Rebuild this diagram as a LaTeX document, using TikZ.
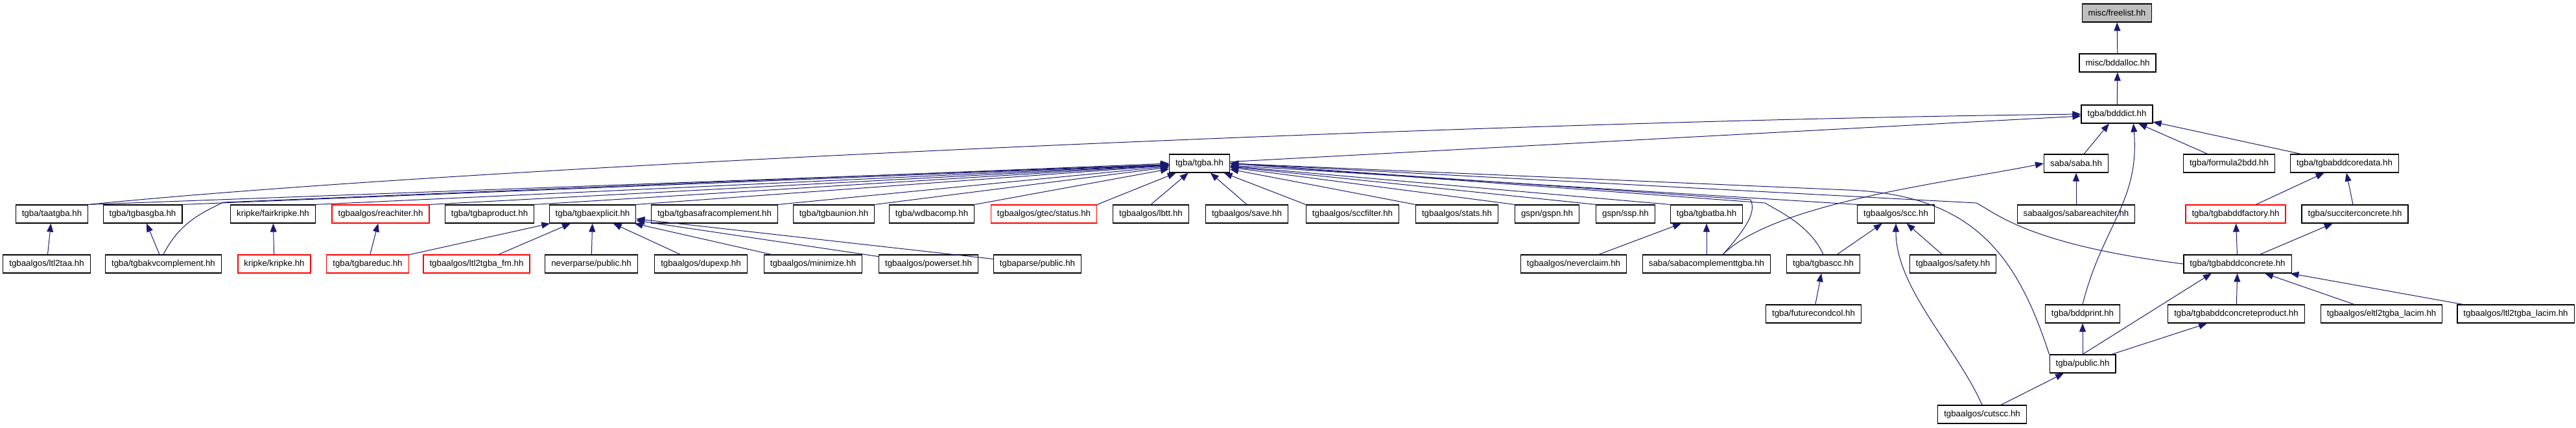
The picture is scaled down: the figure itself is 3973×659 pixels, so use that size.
\documentclass[tikz,border=0pt]{standalone}
\usepackage{fontspec}
\setmainfont{Liberation Sans}
\usetikzlibrary{arrows.meta, positioning, calc}
\definecolor{edgeblue}{RGB}{25,25,112}
\definecolor{rootgray}{RGB}{191,191,191}
\definecolor{brokenred}{RGB}{255,0,0}

\tikzset{
  file/.style={draw=black, line width=0.6pt, inner xsep=4.75pt, inner ysep=0pt,
    minimum height=14pt, font=\fontsize{6.65}{7}\selectfont},
  missing/.style={file, draw=brokenred},
  rootfile/.style={file, fill=rootgray},
  dep/.style={draw=edgeblue, line width=0.5pt, -{Triangle[length=6.5pt,width=5pt]}},
}

\begin{document}
\begin{tikzpicture}[x=0.5pt, y=-0.5pt]
  \useasboundingbox (0,0) rectangle (3973,659);

  % top chain
  \node[rootfile] (freelist) at (3265,20) {misc/freelist.hh};
  \node[file] (bddalloc) at (3266,97) {misc/bddalloc.hh};
  \node[file] (bdddict) at (3265,176) {tgba/bdddict.hh};

  % row 4
  \node[file] (tgba) at (1850,252) {tgba/tgba.hh};
  \node[file] (saba) at (3202,252) {saba/saba.hh};
  \node[file] (formula2bdd) at (3438,252) {tgba/formula2bdd.hh};
  \node[file] (coredata) at (3616,252) {tgba/tgbabddcoredata.hh};

  % row 5
  \node[file] (taatgba) at (80,330) {tgba/taatgba.hh};
  \node[file] (tgbasgba) at (220,330) {tgba/tgbasgba.hh};
  \node[file] (fairkripke) at (421,330) {kripke/fairkripke.hh};
  \node[missing] (reachiter) at (587,330) {tgbaalgos/reachiter.hh};
  \node[file] (product) at (755,330) {tgba/tgbaproduct.hh};
  \node[file] (explicit) at (914,330) {tgba/tgbaexplicit.hh};
  \node[file] (safracomp) at (1102,330) {tgba/tgbasafracomplement.hh};
  \node[file] (union) at (1286,330) {tgba/tgbaunion.hh};
  \node[file] (wdbacomp) at (1437,330) {tgba/wdbacomp.hh};
  \node[missing] (status) at (1610,330) {tgbaalgos/gtec/status.hh};
  \node[file] (lbtt) at (1775,330) {tgbaalgos/lbtt.hh};
  \node[file] (save) at (1923,330) {tgbaalgos/save.hh};
  \node[file] (sccfilter) at (2086,330) {tgbaalgos/sccfilter.hh};
  \node[file] (stats) at (2247,330) {tgbaalgos/stats.hh};
  \node[file] (gspn) at (2386,330) {gspn/gspn.hh};
  \node[file] (ssp) at (2507,330) {gspn/ssp.hh};
  \node[file] (tgbatba) at (2632,330) {tgba/tgbatba.hh};
  \node[file] (scc) at (2924,330) {tgbaalgos/scc.hh};
  \node[file] (sabareach) at (3202,330) {sabaalgos/sabareachiter.hh};
  \node[missing] (factory) at (3448,330) {tgba/tgbabddfactory.hh};
  \node[file] (succiter) at (3632,330) {tgba/succiterconcrete.hh};

  % row 6
  \node[file] (ltl2taa) at (72,407) {tgbaalgos/ltl2taa.hh};
  \node[file] (kvcomp) at (252,407) {tgba/tgbakvcomplement.hh};
  \node[missing] (kripke) at (423,407) {kripke/kripke.hh};
  \node[missing] (reduc) at (567,407) {tgba/tgbareduc.hh};
  \node[missing] (ltl2fm) at (735,407) {tgbaalgos/ltl2tgba\_fm.hh};
  \node[file] (neverparse) at (912,407) {neverparse/public.hh};
  \node[file] (dupexp) at (1081,407) {tgbaalgos/dupexp.hh};
  \node[file] (minimize) at (1254,407) {tgbaalgos/minimize.hh};
  \node[file] (powerset) at (1432,407) {tgbaalgos/powerset.hh};
  \node[file] (tgbaparse) at (1600,407) {tgbaparse/public.hh};
  \node[file] (neverclaim) at (2427,407) {tgbaalgos/neverclaim.hh};
  \node[file] (sabacomp) at (2632,407) {saba/sabacomplementtgba.hh};
  \node[file] (tgbascc) at (2812,407) {tgba/tgbascc.hh};
  \node[file] (safety) at (3012,407) {tgbaalgos/safety.hh};
  \node[file] (concrete) at (3451,407) {tgba/tgbabddconcrete.hh};

  % rows 7 to 9
  \node[file] (futurecond) at (2797,484) {tgba/futurecondcol.hh};
  \node[file] (bddprint) at (3212,484) {tgba/bddprint.hh};
  \node[file] (concreteprod) at (3449,484) {tgba/tgbabddconcreteproduct.hh};
  \node[file] (eltl) at (3673,484) {tgbaalgos/eltl2tgba\_lacim.hh};
  \node[file] (ltllacim) at (3880,484) {tgbaalgos/ltl2tgba\_lacim.hh};
  \node[file] (public) at (3212,561) {tgba/public.hh};
  \node[file] (cutscc) at (3057,639) {tgbaalgos/cutscc.hh};

  % bends of the long connectors
  \coordinate (kvbend) at (344,312);
  \coordinate (sababend) at (2700,308);
  \coordinate (tsccbend) at (2722,313);
  \coordinate (pubbend) at (2850,293);
  \coordinate (concbend) at (3048,313);

  % includes of the top chain
  \draw[dep] (bddalloc) -- (freelist);
  \draw[dep] (bdddict) -- (bddalloc);
  \draw[dep] (tgba) -- (bdddict);
  \draw[dep] (taatgba.north east) .. controls +(600,-60) and +(-900,10) .. (bdddict.west);
  \draw[dep] (saba) -- (bdddict);
  \draw[dep] (formula2bdd) -- (bdddict);
  \draw[dep] (coredata) -- (bdddict);
  \draw[dep] (bddprint.north) .. controls +(30,-120) and +(10,120) .. (bdddict.-30);

  % includes of tgba.hh
  \draw[dep] (taatgba.north east) -- (tgba);
  \draw[dep] (tgbasgba.north east) -- (tgba);
  \draw[dep] (fairkripke.north east) -- (tgba);
  \draw[dep] (reachiter.north east) -- (tgba);
  \draw[dep] (product.north east) -- (tgba);
  \draw[dep] (explicit.north east) -- (tgba);
  \draw[dep] (safracomp.north east) -- (tgba);
  \draw[dep] (union.north east) -- (tgba);
  \draw[dep] (wdbacomp.north east) -- (tgba);
  \draw[dep] (status.north east) -- (tgba);
  \draw[dep] (lbtt.north) -- (tgba);
  \draw[dep] (save.north) -- (tgba);
  \draw[dep] (sccfilter.north west) -- (tgba);
  \draw[dep] (stats.north west) -- (tgba);
  \draw[dep] (gspn.north west) -- (tgba);
  \draw[dep] (ssp.north west) -- (tgba);
  \draw[dep] (tgbatba.north west) -- (tgba);
  \draw[dep] (scc.north west) -- (tgba);
  \draw[dep] (kvcomp.north) .. controls +(25,-50) and +(-30,15) .. (kvbend) -- (tgba.west);
  \draw[dep] (sabacomp.30) .. controls +(40,-45) and +(8,18) .. (sababend) -- (tgba.east);
  \draw[dep] (tgbascc.north) .. controls +(-20,-45) and +(20,12) .. (tsccbend) -- (tgba.east);
  \draw[dep] (public.north west) .. controls (3110,390) and (3040,300) .. (pubbend) -- (tgba.east);
  \draw[dep] (concrete.west) .. controls +(-240,-30) and +(30,15) .. (concbend) -- (tgba.east);

  % lower includes, left part
  \draw[dep] (ltl2taa) -- (taatgba);
  \draw[dep] (kvcomp) -- (tgbasgba);
  \draw[dep] (kripke) -- (fairkripke);
  \draw[dep] (reduc) -- (reachiter);
  \draw[dep] (reduc) -- (explicit);
  \draw[dep] (ltl2fm) -- (explicit);
  \draw[dep] (neverparse) -- (explicit);
  \draw[dep] (dupexp) -- (explicit);
  \draw[dep] (minimize) -- (explicit);
  \draw[dep] (powerset) -- (explicit);
  \draw[dep] (tgbaparse) -- (explicit);

  % lower includes, right part
  \draw[dep] (neverclaim) -- (tgbatba);
  \draw[dep] (sabacomp) -- (tgbatba);
  \draw[dep] (sabacomp.30) .. controls +(80,-80) and +(-150,30) .. (saba.west);
  \draw[dep] (sabareach) -- (saba);
  \draw[dep] (tgbascc) -- (scc);
  \draw[dep] (safety) -- (scc);
  \draw[dep] (cutscc.north) .. controls +(-40,-90) and +(0,100) .. (scc.south);
  \draw[dep] (futurecond) -- (tgbascc);
  \draw[dep] (factory) -- (coredata);
  \draw[dep] (succiter) -- (coredata);
  \draw[dep] (concrete) -- (factory);
  \draw[dep] (concrete) -- (succiter);
  \draw[dep] (concreteprod) -- (concrete);
  \draw[dep] (eltl) -- (concrete);
  \draw[dep] (ltllacim) -- (concrete);
  \draw[dep] (public) -- (bddprint);
  \draw[dep] (public.north) -- (concrete.-160);
  \draw[dep] (public) -- (concreteprod);
  \draw[dep] (cutscc) -- (public);
\end{tikzpicture}
\end{document}
